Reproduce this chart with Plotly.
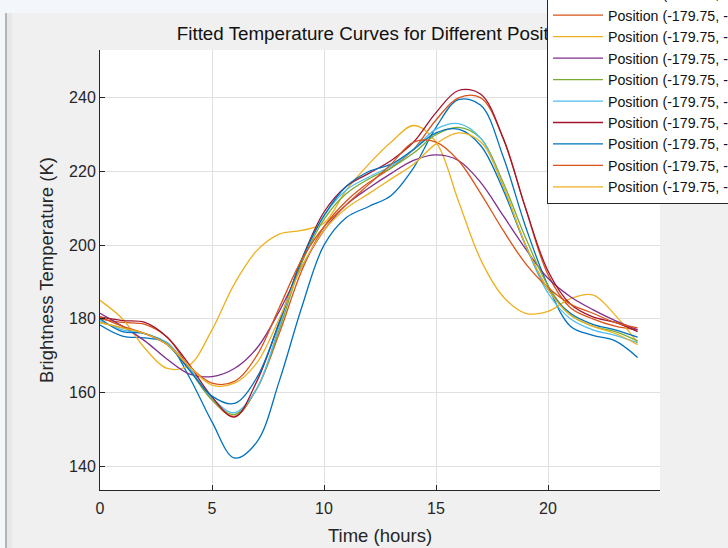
import plotly.graph_objects as go

hours = list(range(25))

# Fitted temperature curves (K), one value per hour 0..24
pos01_blue = [178.3, 175.3, 174.8, 173.5, 164.0, 152.0, 142.2, 146.5, 163.0, 183.0, 200.0, 207.5, 210.5, 213.5, 221.0, 232.0, 239.5, 238.0, 224.0, 205.0, 189.0, 178.0, 175.5, 174.0, 169.5]
pos02_orange = [180.0, 179.0, 178.5, 175.0, 166.5, 158.0, 153.5, 161.0, 176.0, 193.0, 205.0, 212.0, 217.0, 221.0, 226.0, 234.0, 240.0, 240.0, 229.0, 210.0, 192.0, 183.0, 180.0, 178.0, 177.0]
pos03_yellow = [185.0, 180.0, 172.0, 166.5, 167.5, 177.0, 189.5, 198.5, 203.0, 204.0, 206.0, 215.0, 222.0, 228.0, 232.5, 228.0, 212.0, 196.0, 186.0, 181.5, 182.0, 185.5, 186.5, 181.0, 173.5]
pos04_purple = [181.5, 178.0, 174.0, 169.0, 165.0, 164.3, 166.5, 172.0, 182.0, 194.0, 204.0, 211.0, 215.5, 219.5, 223.0, 224.5, 223.0, 217.0, 208.0, 199.0, 191.0, 186.0, 182.5, 179.5, 177.0]
pos05_green = [179.0, 177.5, 176.0, 173.0, 166.0, 158.0, 154.0, 161.0, 177.0, 195.0, 207.0, 214.0, 218.0, 221.0, 225.0, 230.0, 232.0, 229.0, 217.0, 202.0, 189.0, 181.0, 178.0, 176.5, 174.0]
pos06_cyan = [179.5, 177.0, 176.0, 173.5, 166.5, 158.5, 154.5, 161.0, 178.0, 196.0, 208.0, 215.0, 218.5, 221.5, 226.0, 231.5, 233.0, 229.0, 216.0, 200.0, 187.0, 180.0, 177.0, 175.5, 173.5]
pos07_darkred = [180.5, 179.5, 179.0, 175.0, 167.4, 158.8, 153.3, 163.0, 179.0, 196.0, 209.0, 216.0, 219.5, 223.0, 228.0, 236.0, 242.0, 241.0, 229.0, 210.0, 193.0, 184.0, 180.5, 179.0, 176.5]
pos08_blue = [180.0, 176.5, 176.0, 173.0, 166.0, 159.0, 157.0, 164.0, 179.0, 196.0, 208.0, 216.0, 220.0, 222.0, 226.0, 230.5, 231.5, 227.0, 215.0, 200.0, 188.0, 181.5, 178.5, 177.0, 175.0]
pos09_orange = [180.5, 178.0, 176.0, 173.0, 167.0, 162.5, 163.0, 170.0, 183.0, 196.0, 205.0, 211.0, 216.5, 222.0, 228.0, 228.0, 223.0, 214.0, 204.0, 195.0, 188.5, 184.0, 181.5, 179.0, 177.5]
pos10_yellow = [179.0, 177.5, 176.0, 173.0, 167.0, 162.0, 162.5, 168.0, 180.0, 194.0, 204.0, 210.0, 214.0, 218.0, 222.0, 227.5, 230.5, 228.0, 216.0, 200.0, 188.0, 181.0, 178.0, 176.0, 173.0]

series = [pos01_blue, pos02_orange, pos03_yellow, pos04_purple, pos05_green,
          pos06_cyan, pos07_darkred, pos08_blue, pos09_orange, pos10_yellow]

longitude = -179.75
latitudes = [-87.25, -86.75, -86.25, -85.75, -85.25, -84.75, -84.25, -83.75, -83.25, -82.75]
labels = [f"Position ({longitude:.2f}, {lat:.2f})" for lat in latitudes]

colors = ["#0072BD", "#D95319", "#EDB120", "#7E2F8E", "#77AC30",
          "#4DBEEE", "#A2142F", "#0072BD", "#D95319", "#EDB120"]

x_ticks = [0, 5, 10, 15, 20]
y_ticks = [140, 160, 180, 200, 220, 240]

FONT = "Arial, 'Liberation Sans', Helvetica, sans-serif"
AX = "#262626"

fig = go.Figure()
for vals, lab, col in zip(series, labels, colors):
    fig.add_trace(go.Scatter(
        x=hours, y=vals, mode="lines", name=lab,
        line=dict(color=col, width=1.3, shape="spline", smoothing=1.0),
    ))

L, R, T, B = 100, 68, 50, 58
W, H = 728, 548
pw, ph = W - L - R, H - T - B

def px(xp):
    return (xp - L) / pw

def py(yp):
    return (H - B - yp) / ph

shapes = [
    dict(type="rect", xref="paper", yref="paper", x0=px(-5), x1=px(740), y0=py(13), y1=py(-5),
         fillcolor="#f3f7fb", line=dict(width=0), layer="below"),
    dict(type="rect", xref="paper", yref="paper", x0=px(-5), x1=px(5), y0=py(560), y1=py(-5),
         fillcolor="#f3f7fb", line=dict(width=0), layer="below"),
    dict(type="rect", xref="paper", yref="paper", x0=px(5), x1=px(7), y0=py(560), y1=py(13),
         fillcolor="#b4b4b4", line=dict(width=0), layer="below"),
    dict(type="rect", xref="paper", yref="paper", x0=px(7), x1=px(12), y0=py(560), y1=py(13),
         fillcolor="#e8e8e8", line=dict(width=0), layer="below"),
]

fig.update_layout(
    width=W, height=H,
    margin=dict(l=L, r=R, t=T, b=B, autoexpand=False),
    paper_bgcolor="#f0f0f0", plot_bgcolor="white",
    font=dict(family=FONT, color=AX),
    title=dict(text="Fitted Temperature Curves for Different Positions",
               x=0.5, xref="paper", xanchor="center",
               y=1 - 33 / H, yanchor="middle",
               font=dict(size=18.8, color="#111111", family=FONT)),
    xaxis=dict(range=[0, 25], tickvals=x_ticks, showgrid=True, gridcolor="#e0e0e0",
               ticks="inside", ticklen=5, tickcolor=AX, showline=True, linecolor=AX,
               linewidth=1, zeroline=False, tickfont=dict(size=16, color=AX),
               ticklabelstandoff=4,
               title=dict(text="Time (hours)", font=dict(size=18.5, color=AX), standoff=12)),
    yaxis=dict(range=[133.5, 253], tickvals=y_ticks, showgrid=True, gridcolor="#e0e0e0",
               ticks="inside", ticklen=5, tickcolor=AX, showline=True, linecolor=AX,
               linewidth=1, zeroline=False, tickfont=dict(size=16, color=AX),
               title=dict(text="Brightness Temperature (K)", font=dict(size=18.5, color=AX), standoff=10)),
    legend=dict(x=px(547), y=py(-23), xanchor="left", yanchor="top",
                bgcolor="white", bordercolor=AX, borderwidth=1,
                font=dict(size=14.2, color="#111111", family=FONT),
                itemwidth=50, tracegroupgap=0),
    shapes=shapes,
)

# keep the legend box drawn above the title, as in the reference
post = """
var gd = document.getElementById('{plot_id}');
var leg = gd.querySelector('.infolayer .legend');
if (leg && leg.parentNode) { leg.parentNode.appendChild(leg); }
"""

fig.write_html("out.html", post_script=post)
